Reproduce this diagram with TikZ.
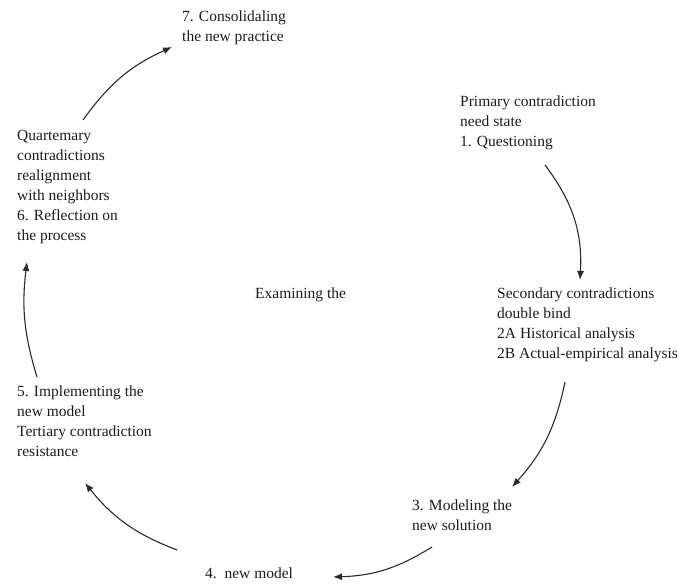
\documentclass[tikz,border=0pt]{standalone}
\usepackage{fontspec}
\setmainfont{Liberation Serif}
\usepackage{tikz}
\usetikzlibrary{arrows.meta,positioning}
\definecolor{ink}{HTML}{1C1C1C}
\definecolor{arrowgray}{HTML}{2A2A2A}
\tikzset{
  stagetext/.style={
    anchor=north west,
    inner sep=0pt,
    align=left,
    text=ink,
    font=\fontsize{15.5}{20}\selectfont
  },
  cyclearrow/.style={-{Latex[length=9pt,width=7pt]}, line width=1.1pt, draw=arrowgray}
}
\begin{document}
\begin{tikzpicture}[x=1pt,y=1pt]
  \useasboundingbox (0,0) rectangle (683,585);

  \node[stagetext] (consol) at (182,574)
    {7. Consolidaling\\the new practice};
  \node[stagetext] (primary) at (460,489)
    {Primary contradiction\\need state\\1. Questioning};
  \node[stagetext] (secondary) at (497,297)
    {Secondary contradictions\\double bind\\2A Historical analysis\\2B Actual-empirical analysis};
  \node[stagetext] (modeling) at (412,85)
    {3. Modeling the\\new solution};
  \node[stagetext] (newmodel) at (205,17)
    {4.\ \ new model};
  \node[stagetext] (implement) at (17,199)
    {5. Implementing the\\new model\\Tertiary contradiction\\resistance};
  \node[stagetext] (quart) at (17,455)
    {Quartemary\\contradictions\\realignment\\with neighbors\\6. Reflection on\\the process};
  \node[stagetext] (examining) at (255,297) {Examining the};

  % arrow ends
  \coordinate (q-out) at (83,465);
  \coordinate (c-in) at (172,538);
  \coordinate (p-out) at (545,420);
  \coordinate (s-in) at (580,305);
  \coordinate (s-out) at (565,203);
  \coordinate (m-in) at (512,98);
  \coordinate (m-out) at (432,38);
  \coordinate (n-in) at (333,8);
  \coordinate (n-out) at (177,35);
  \coordinate (i-in) at (85,102);
  \coordinate (i-out) at (37,208);
  \coordinate (q-in) at (27,323);

  \draw[cyclearrow] (q-out) to[bend left=15] (c-in);
  \draw[cyclearrow] (p-out) to[bend left=20] (s-in);
  \draw[cyclearrow] (s-out) to[bend left=15] (m-in);
  \draw[cyclearrow] (m-out) to[bend left=15] (n-in);
  \draw[cyclearrow] (n-out) to[bend left=15] (i-in);
  \draw[cyclearrow] (i-out) to[bend left=12] (q-in);
\end{tikzpicture}
\end{document}
